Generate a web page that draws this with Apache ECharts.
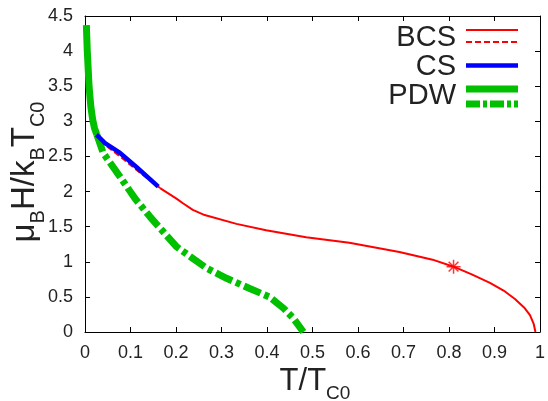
<!DOCTYPE html>
<html><head><meta charset="utf-8">
<script src="https://cdn.jsdelivr.net/npm/echarts@6/dist/echarts.min.js"></script>
<style>html,body{margin:0;padding:0;background:#fff}#c{width:548px;height:401px}</style>
</head><body><div id="c"></div>
<script>
// BCS stable branch (solid red)
const bcsX = [0.165,0.201,0.216,0.237,0.263,0.333,0.398,0.486,0.581,0.691,0.764,0.810,0.850,0.890,0.920,0.945,0.965,0.978,0.986,0.990];
const bcsY = [2.05,1.90,1.83,1.74,1.665,1.54,1.45,1.35,1.27,1.14,1.03,0.93,0.82,0.70,0.59,0.47,0.35,0.24,0.12,0];
// BCS metastable branch (dashed red)
const bcsMetaX = [0.033,0.077,0.113,0.165];
const bcsMetaY = [2.72,2.50,2.31,2.05];
// CS (blue)
const csX = [0.025,0.044,0.077,0.113,0.161];
const csY = [2.81,2.69,2.55,2.35,2.07];
// PDW solid (green)
const pdwX = [0.003,0.005,0.009,0.013,0.017,0.021,0.026];
const pdwY = [4.37,4.0,3.49,3.2,3.02,2.9,2.81];
// PDW dash-dot (green)
const pdwDX = [0.026,0.040,0.077,0.110,0.143,0.201,0.267,0.311,0.362,0.405,0.436,0.458,0.480];
const pdwDY = [2.81,2.55,2.21,1.90,1.64,1.215,0.91,0.765,0.62,0.50,0.34,0.195,0];
// marked point
const starX = [0.81];
const starY = [0.93];

const xTicks = {min:0, max:1, interval:0.1};
const yTicks = {min:0, max:4.5, interval:0.5};

const zip = (xs, ys) => xs.map((x,i)=>[x, ys[i]]);
const FONT = 'Liberation Sans, Arial, Helvetica, sans-serif';
const RED = '#ff0000', BLUE = '#0000ff', GREEN = '#00c000';
const TXT = '#222';

const axisCommon = (pos, showLabel) => ({
  type:'value', position:pos,
  axisLine:{show:true, onZero:false, lineStyle:{color:'#000', width:1}},
  axisTick:{show:true, inside:true, length:5, lineStyle:{color:'#000', width:1}},
  axisLabel:{show:showLabel, fontSize:18, color:TXT, fontFamily:FONT, margin:12},
  splitLine:{show:false}
});

const nameRich = {
  m:{fontSize:33, fontFamily:FONT, fill:TXT, lineHeight:46, verticalAlign:'middle'},
  s:{fontSize:20, fontFamily:FONT, fill:TXT, lineHeight:20, verticalAlign:'bottom'}
};

const chart = echarts.init(document.getElementById('c'), null, {renderer:'canvas'});
chart.setOption({
  animation:false,
  backgroundColor:'#fff',
  grid:{left:85, right:7, top:16, bottom:69},
  xAxis:[Object.assign(axisCommon('bottom', true), xTicks),
         Object.assign(axisCommon('top', false), xTicks)],
  yAxis:[Object.assign(axisCommon('left', true), yTicks),
         Object.assign(axisCommon('right', false), yTicks)],
  series:[
    {type:'line', data:zip(bcsMetaX,bcsMetaY), showSymbol:false, lineStyle:{color:RED, width:2, type:[6,3]}, z:2},
    {type:'line', data:zip(bcsX,bcsY), showSymbol:false, lineStyle:{color:RED, width:2}, z:2},
    {type:'line', data:zip(pdwX,pdwY), showSymbol:false, lineStyle:{color:GREEN, width:7, cap:'butt'}, z:3},
    {type:'line', data:zip(pdwDX,pdwDY), showSymbol:false, lineStyle:{color:GREEN, width:7, type:[18,4,5,4], cap:'butt'}, z:3},
    {type:'line', data:zip(csX,csY), showSymbol:false, lineStyle:{color:BLUE, width:4.5}, z:4},
    {type:'scatter', data:zip(starX,starY), symbol:'path://M0,-1L0,1M-1,0L1,0M-0.7,-0.7L0.7,0.7M-0.7,0.7L0.7,-0.7',
     symbolSize:14, itemStyle:{color:'rgba(0,0,0,0)', borderColor:RED, borderWidth:1.5}, z:5}
  ],
  graphic:[
    {type:'text', x:315, y:381, style:{text:'{m|T/T}{s|C0}', align:'center', verticalAlign:'middle', fill:TXT,
      rich:{m:{fontSize:31, fontFamily:FONT, fill:TXT, lineHeight:44, verticalAlign:'middle'},
            s:{fontSize:19, fontFamily:FONT, fill:TXT, lineHeight:20, verticalAlign:'bottom'}}}},
    {type:'text', x:25, y:172, rotation:Math.PI/2, style:{text:'{m|μ}{s|B}{m|H/k}{s|B}{m|T}{s|C0}', align:'center', verticalAlign:'middle', fill:TXT,
      rich:nameRich}},
    {type:'text', x:456, y:38, style:{text:'BCS', align:'right', verticalAlign:'middle', fontSize:29, fontFamily:FONT, fill:TXT}},
    {type:'text', x:456, y:67, style:{text:'CS', align:'right', verticalAlign:'middle', fontSize:29, fontFamily:FONT, fill:TXT}},
    {type:'text', x:456, y:96, style:{text:'PDW', align:'right', verticalAlign:'middle', fontSize:29, fontFamily:FONT, fill:TXT}},
    {type:'line', shape:{x1:466,y1:30,x2:518,y2:30}, style:{stroke:RED, lineWidth:2}},
    {type:'line', shape:{x1:466,y1:42,x2:518,y2:42}, style:{stroke:RED, lineWidth:2, lineDash:[6,3]}},
    {type:'line', shape:{x1:466,y1:65.5,x2:518,y2:65.5}, style:{stroke:BLUE, lineWidth:4.5}},
    {type:'line', shape:{x1:466,y1:89,x2:518,y2:89}, style:{stroke:GREEN, lineWidth:7}},
    {type:'line', shape:{x1:466,y1:104,x2:518,y2:104}, style:{stroke:GREEN, lineWidth:7, lineDash:[14,3,4,3]}}
  ]
});
</script></body></html>
